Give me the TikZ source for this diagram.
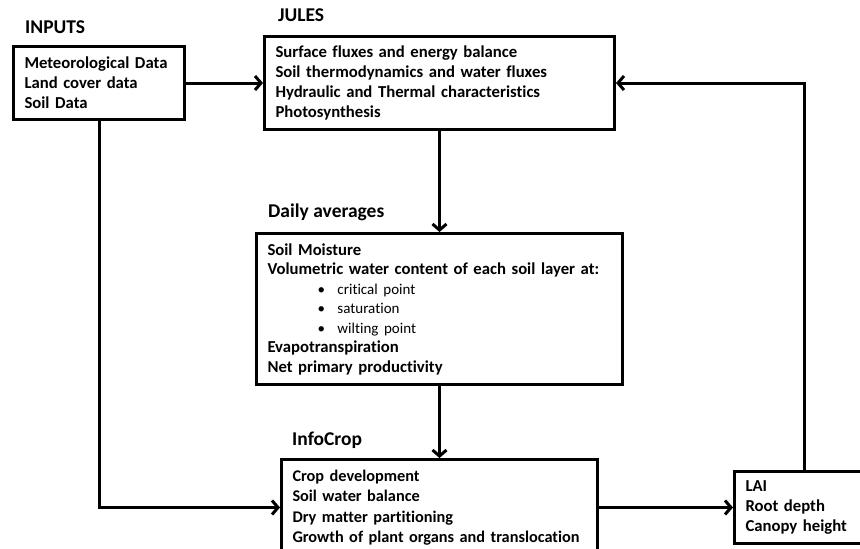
\documentclass[tikz,border=0pt]{standalone}
\usepackage{fontspec}
\setmainfont{Carlito}[Ligatures=NoCommon]
\usetikzlibrary{arrows.meta,positioning}

\begin{document}
\begin{tikzpicture}[
  x=1pt, y=-1pt,
  box/.style={draw, line width=3pt, align=left, anchor=north west,
              inner xsep=11pt, inner ysep=0pt,
              font=\fontsize{16.7}{20}\selectfont\bfseries},
  title/.style={inner sep=0pt, font=\fontsize{19.5}{22}\selectfont\bfseries},
  arrow/.style={-{Straight Barb[length=6pt,width=14pt]}, line width=3pt}
]
\useasboundingbox (0,0) rectangle (860,549);

\node[box, text width=149pt, minimum height=73pt] (inputs) at (12,45)
  {Meteorological Data\\Land cover data\\Soil Data};
\node[box, text width=328pt, minimum height=93pt] (jules) at (263,35)
  {Surface fluxes and energy balance\\Soil thermodynamics and water fluxes\\
   Hydraulic and Thermal characteristics\\Photosynthesis};
\node[box, text width=344pt, minimum height=151pt,
      font=\fontsize{16.7}{19.5}\selectfont\bfseries] (daily) at (255,232)
  {Soil Moisture\\Volumetric water content of each soil layer at:\\
   \hspace*{50pt}\makebox[20pt][l]{\mdseries\fontsize{15}{19.5}\selectfont •}{\mdseries\fontsize{15}{19.5}\selectfont critical point}\\
   \hspace*{50pt}\makebox[20pt][l]{\mdseries\fontsize{15}{19.5}\selectfont •}{\mdseries\fontsize{15}{19.5}\selectfont saturation}\\
   \hspace*{50pt}\makebox[20pt][l]{\mdseries\fontsize{15}{19.5}\selectfont •}{\mdseries\fontsize{15}{19.5}\selectfont wilting point}\\
   Evapotranspiration\\Net primary productivity};
\node[box, text width=294pt, minimum height=96pt,
      font=\fontsize{16.3}{20.5}\selectfont\bfseries] (infocrop) at (280,458)
  {Crop development\\Soil water balance\\Dry matter partitioning\\
   \mbox{Growth of plant organs and translocation}};
\node[box, text width=108pt, minimum height=72pt] (lai) at (733,470)
  {LAI\\Root depth\\Canopy height};

% headings
\node[title, above right=12pt and 13pt of inputs.north west, anchor=base west] (inputst) {INPUTS};
\node[title, above right=14pt and 15pt of jules.north west, anchor=base west] (julest) {JULES};
\node[title, above right=15pt and 13pt of daily.north west, anchor=base west] (dailyt) {Daily averages};
\node[title, above right=13pt and 12pt of infocrop.north west, anchor=base west] (infocropt) {InfoCrop};

\draw[arrow] (inputs) -- (jules);
\draw[arrow] (jules) -- (daily);
\draw[arrow] (daily) -- (infocrop);
\draw[arrow] (inputs) |- (infocrop);
\draw[arrow] (infocrop) -- (lai);
\draw[arrow] ([xshift=5pt]lai.north) |- (jules);
\end{tikzpicture}
\end{document}
